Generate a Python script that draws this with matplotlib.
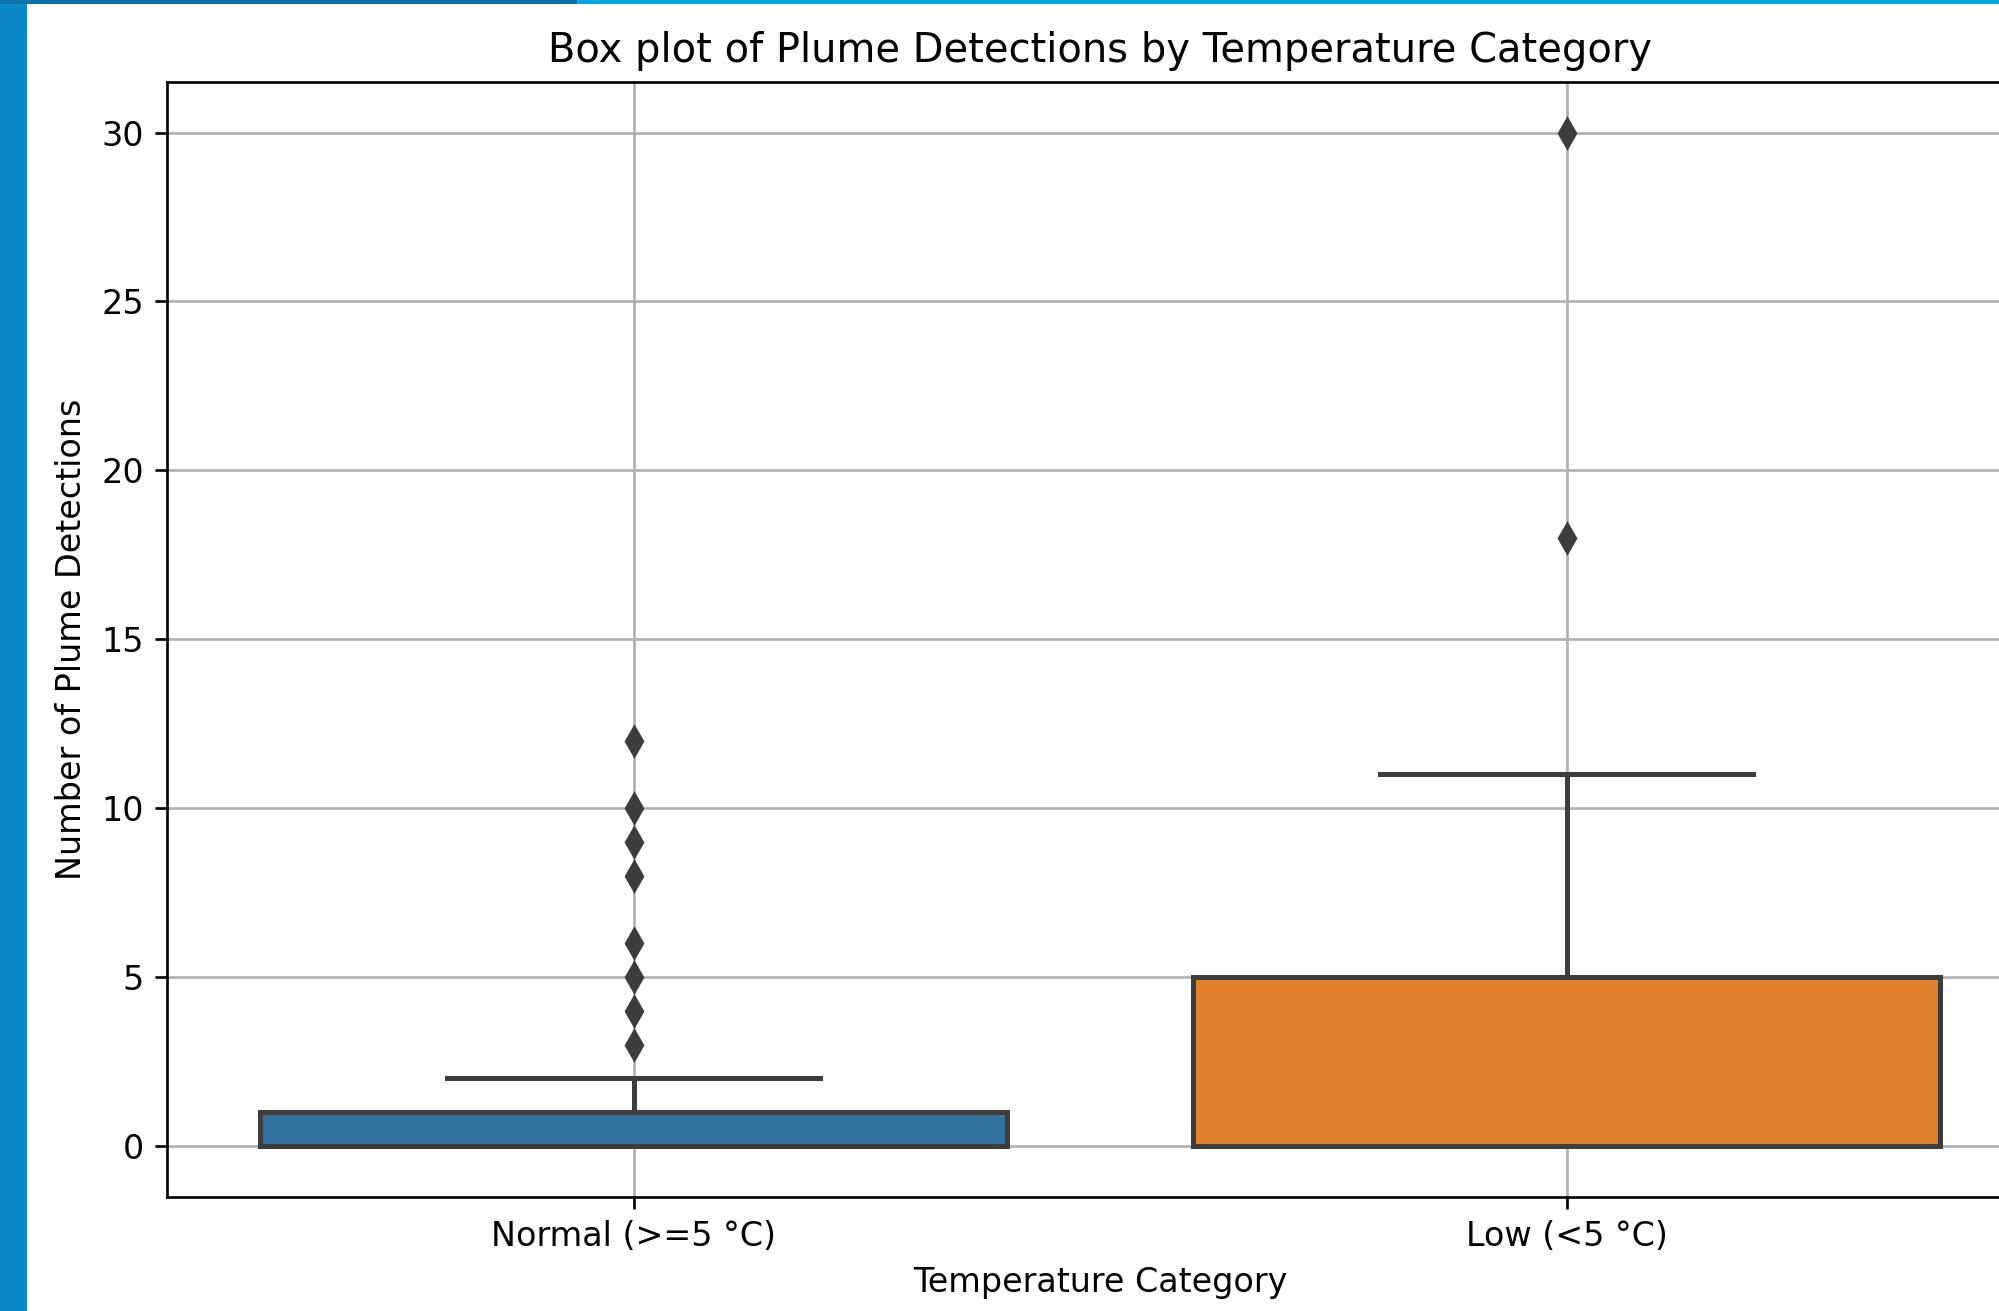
import matplotlib
matplotlib.use("Agg")
import matplotlib.pyplot as plt
from matplotlib.patches import Rectangle

# ---- data ----
categories = ["Normal (>=5 °C)", "Low (<5 °C)"]
q1_values = [0, 0]
median_values = [0, 0]
q3_values = [1, 5]
whisker_low = [0, 0]
whisker_high = [2, 11]
outliers_normal = [3, 4, 5, 6, 8, 9, 10, 12]
outliers_low = [18, 30]
box_colors = ["#3274a1", "#e1812c"]

DPI = 240
W, H = 1999, 1311
fig = plt.figure(figsize=(W / DPI, H / DPI), dpi=DPI)

# screenshot frame (blue background showing at left/top)
fig.patches.append(Rectangle((0, 0), 27 / W, 1, transform=fig.transFigure,
                             facecolor="#0a88c8", edgecolor="none", zorder=-10))
fig.patches.append(Rectangle((0, 1 - 4 / H), 577 / W, 4 / H, transform=fig.transFigure,
                             facecolor="#0a74a8", edgecolor="none", zorder=-10))
fig.patches.append(Rectangle((577 / W, 1 - 4 / H), 1, 4 / H, transform=fig.transFigure,
                             facecolor="#06a6e8", edgecolor="none", zorder=-10))
fig.patches.append(Rectangle((0, 1 - 4 / H), 27 / W, 4 / H, transform=fig.transFigure,
                             facecolor="#0a74a8", edgecolor="none", zorder=-10))

ax = fig.add_axes([167 / W, 1 - 1196.7 / H, 1866 / W, 1114.8 / H])

fliers_all = [outliers_normal, outliers_low]
stats = []
for i, lab in enumerate(categories):
    stats.append(dict(label=lab, med=median_values[i], q1=q1_values[i], q3=q3_values[i],
                      whislo=whisker_low[i], whishi=whisker_high[i], fliers=fliers_all[i]))

gray = "#3d3d3d"
lw = 1.5
bp = ax.bxp(stats, positions=[0, 1], widths=0.8, patch_artist=True,
            boxprops=dict(edgecolor=gray, linewidth=lw),
            medianprops=dict(color=gray, linewidth=lw),
            whiskerprops=dict(color=gray, linewidth=lw),
            capprops=dict(color=gray, linewidth=lw),
            flierprops=dict(marker="d", markerfacecolor=gray, markeredgecolor=gray,
                            markersize=6, linestyle="none"))
for patch, c in zip(bp["boxes"], box_colors):
    patch.set_facecolor(c)

ax.set_xlim(-0.5, 1.5)
ax.set_ylim(-1.5, 31.5)
ax.set_yticks([0, 5, 10, 15, 20, 25, 30])
ax.set_xticks([0, 1])
ax.set_xticklabels(categories)
ax.grid(True)
ax.set_title("Box plot of Plume Detections by Temperature Category", fontsize=12)
ax.set_xlabel("Temperature Category")
ax.set_ylabel("Number of Plume Detections")

fig.savefig("out.png", dpi=DPI)
